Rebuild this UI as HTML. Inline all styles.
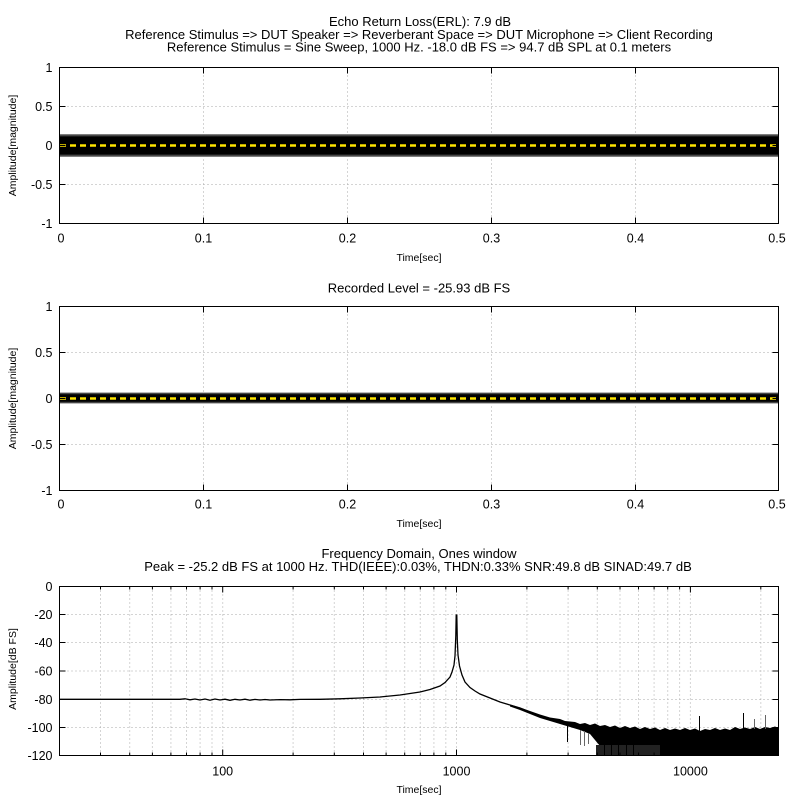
<!DOCTYPE html>
<html>
<head>
<meta charset="utf-8">
<style>
html,body{margin:0;padding:0;background:#fff;}
svg{display:block;}
</style>
</head>
<body>
<svg width="800" height="800" viewBox="0 0 800 800" xmlns="http://www.w3.org/2000/svg" font-family="'Liberation Sans', Arial, sans-serif">
<defs>
<linearGradient id="g1" x1="0" y1="0" x2="0" y2="1">
<stop offset="0" stop-color="#999"/>
<stop offset="0.08" stop-color="#333"/>
<stop offset="0.14" stop-color="#000"/>
<stop offset="0.86" stop-color="#000"/>
<stop offset="0.92" stop-color="#333"/>
<stop offset="1" stop-color="#999"/>
</linearGradient>
<linearGradient id="g2" x1="0" y1="0" x2="0" y2="1">
<stop offset="0" stop-color="#888"/>
<stop offset="0.14" stop-color="#222"/>
<stop offset="0.22" stop-color="#000"/>
<stop offset="0.78" stop-color="#000"/>
<stop offset="0.86" stop-color="#222"/>
<stop offset="1" stop-color="#888"/>
</linearGradient>
</defs>
<rect width="800" height="800" fill="#fff"/>

<!-- ===== Top titles ===== -->
<g font-size="13" text-anchor="middle" fill="#000">
<text x="420" y="26">Echo Return Loss(ERL): 7.9 dB</text>
<text x="419" y="38.8">Reference Stimulus =&gt; DUT Speaker =&gt; Reverberant Space =&gt; DUT Microphone =&gt; Client Recording</text>
<text x="419" y="51.6">Reference Stimulus = Sine Sweep, 1000 Hz. -18.0 dB FS =&gt; 94.7 dB SPL at 0.1 meters</text>
</g>

<!-- ===== Plot 1 ===== -->
<g stroke="#aaa" stroke-width="1" stroke-dasharray="1,3" fill="none">
<path d="M59.5,106.5H778.5 M59.5,145.5H778.5 M59.5,184.5H778.5"/>
<path d="M203.5,67.5V223.5 M347.5,67.5V223.5 M491.5,67.5V223.5 M635.5,67.5V223.5"/>
</g>
<rect x="59.5" y="134" width="719" height="23" fill="url(#g1)"/>
<line x1="60" y1="145.5" x2="778" y2="145.5" stroke="#ffe600" stroke-width="2.5" stroke-dasharray="6,4"/>
<rect x="59.5" y="67.5" width="719" height="156" fill="none" stroke="#000" stroke-width="1"/>
<path d="M203.5,223.5v-6 M347.5,223.5v-6 M491.5,223.5v-6 M635.5,223.5v-6 M203.5,67.5v6 M347.5,67.5v6 M491.5,67.5v6 M635.5,67.5v6 M59.5,106.5h6 M59.5,145.5h6 M59.5,184.5h6 M778.5,106.5h-6 M778.5,145.5h-6 M778.5,184.5h-6" stroke="#000" stroke-width="1" fill="none"/>
<g font-size="12.5" text-anchor="end" fill="#000">
<text x="52.5" y="72">1</text>
<text x="52.5" y="111">0.5</text>
<text x="52.5" y="150">0</text>
<text x="52.5" y="189">-0.5</text>
<text x="52.5" y="228">-1</text>
</g>
<g font-size="12.5" text-anchor="middle" fill="#000">
<text x="61" y="242.7">0</text>
<text x="203.5" y="242.7">0.1</text>
<text x="347.5" y="242.7">0.2</text>
<text x="491.5" y="242.7">0.3</text>
<text x="635.5" y="242.7">0.4</text>
<text x="777" y="242.7">0.5</text>
</g>
<text x="419" y="261" font-size="10.5" text-anchor="middle">Time[sec]</text>
<text transform="translate(16,145.5) rotate(-90)" font-size="10.5" text-anchor="middle">Amplitude[magnitude]</text>

<!-- ===== Plot 2 ===== -->
<text x="419" y="292.6" font-size="13" text-anchor="middle">Recorded Level = -25.93 dB FS</text>
<g stroke="#aaa" stroke-width="1" stroke-dasharray="1,3" fill="none">
<path d="M59.5,352.5H778.5 M59.5,398.5H778.5 M59.5,444.5H778.5"/>
<path d="M203.5,306.5V490.5 M347.5,306.5V490.5 M491.5,306.5V490.5 M635.5,306.5V490.5"/>
</g>
<rect x="59.5" y="392.5" width="719" height="11" fill="url(#g2)"/>
<line x1="60" y1="398.5" x2="778" y2="398.5" stroke="#ffe600" stroke-width="2.5" stroke-dasharray="6,4"/>
<rect x="59.5" y="306.5" width="719" height="184" fill="none" stroke="#000" stroke-width="1"/>
<path d="M203.5,490.5v-6 M347.5,490.5v-6 M491.5,490.5v-6 M635.5,490.5v-6 M203.5,306.5v6 M347.5,306.5v6 M491.5,306.5v6 M635.5,306.5v6 M59.5,352.5h6 M59.5,398.5h6 M59.5,444.5h6 M778.5,352.5h-6 M778.5,398.5h-6 M778.5,444.5h-6" stroke="#000" stroke-width="1" fill="none"/>
<g font-size="12.5" text-anchor="end" fill="#000">
<text x="52.5" y="311">1</text>
<text x="52.5" y="357">0.5</text>
<text x="52.5" y="403">0</text>
<text x="52.5" y="449">-0.5</text>
<text x="52.5" y="495">-1</text>
</g>
<g font-size="12.5" text-anchor="middle" fill="#000">
<text x="61" y="508.7">0</text>
<text x="203.5" y="508.7">0.1</text>
<text x="347.5" y="508.7">0.2</text>
<text x="491.5" y="508.7">0.3</text>
<text x="635.5" y="508.7">0.4</text>
<text x="777" y="508.7">0.5</text>
</g>
<text x="419" y="527" font-size="10.5" text-anchor="middle">Time[sec]</text>
<text transform="translate(16,398.5) rotate(-90)" font-size="10.5" text-anchor="middle">Amplitude[magnitude]</text>

<!-- ===== Plot 3 ===== -->
<g font-size="13" text-anchor="middle" fill="#000">
<text x="419" y="558">Frequency Domain, Ones window</text>
<text x="418" y="571">Peak = -25.2 dB FS at 1000 Hz. THD(IEEE):0.03%, THDN:0.33% SNR:49.8 dB SINAD:49.7 dB</text>
</g>
<g stroke="#aaa" stroke-width="1" stroke-dasharray="1,3" fill="none">
<path d="M59.5,614.5H778.5 M59.5,642.5H778.5 M59.5,671H778.5 M59.5,699.5H778.5 M59.5,727.5H778.5"/>
<path d="M100.5,586.5V755.5 M129.7,586.5V755.5 M152.4,586.5V755.5 M170.9,586.5V755.5 M186.5,586.5V755.5 M200.1,586.5V755.5 M212,586.5V755.5 M222.7,586.5V755.5
M293.1,586.5V755.5 M334.3,586.5V755.5 M363.5,586.5V755.5 M386.1,586.5V755.5 M404.7,586.5V755.5 M420.3,586.5V755.5 M433.9,586.5V755.5 M445.8,586.5V755.5 M456.5,586.5V755.5
M526.9,586.5V755.5 M568.1,586.5V755.5 M597.3,586.5V755.5 M620,586.5V755.5 M638.5,586.5V755.5 M654.1,586.5V755.5 M667.7,586.5V755.5 M679.6,586.5V755.5 M690.4,586.5V755.5 M760.8,586.5V755.5"/>
</g>

<!-- spectrum curve -->
<path d="M59.5,699.3 L180,699.3 L185,698.8 L190,699.8 L195,699 L200,700 L205,699 L210,700.2 L215,699 L220,700 L225,699.2 L230,700.3 L235,699.3 L240,700 L245,699.2 L250,700.2 L255,699.4 L260,700 L265,699.5 L270,700 L280,699.6 L290,699.8 L300,699.4 L320,699.3 L340,698.8 L360,698 L380,697 L400,695 L410,693.5 L420,692 L430,689.5 L440,686 L445,682.5 L450,677 L452,672 L454,665 L455,656 L455.8,636 L456.2,615 L456.8,615 L457.3,640 L458,655 L459.5,666 L462,675 L465,682 L470,687.5 L475,691 L480,694 L490,698 L500,702 L510,705 L520,708 L530,712 L540,716" fill="none" stroke="#000" stroke-width="1.3"/>
<!-- noisy band -->
<polygon fill="#000" points="510,704.5 520,707.5 530,711 540,714.5 550,717.5 560,719 565,721 570,721.5 575,722 580,724 585,723 590,725 595,723.5 600,726 605,725 610,727 615,725.5 620,728 625,726 630,728 635,726.5 640,729 645,727 650,729 655,727.5 660,730 665,728 670,730 675,728.5 680,730 685,728 690,730 695,728.5 700,731 705,729 710,730 715,728 720,730 725,728.5 730,730 735,727 740,729 745,727.5 750,729 755,727 760,729 765,727 770,728 775,726.5 778.5,728 778.5,755.5 660,755.5 640,750 620,748 600,746 595,740 590,734 580,730 570,727 560,724 550,721 540,718 530,714 520,710 510,706.5"/>
<rect x="596" y="745" width="64" height="10.5" fill="#222"/>
<g stroke="#000" stroke-width="1">
<path d="M567.5,725V742 M699.5,716V731 M743.5,713V730 M604.5,740V755 M611.5,742V755 M618.5,738V755 M626.5,744V755 M633.5,741V755"/>
</g>
<g stroke="#666" stroke-width="1">
<path d="M580.5,730V745 M584.5,731V746 M588.5,733V744 M754.5,719V729 M765.5,715V729"/>
</g>

<rect x="59.5" y="586.5" width="719" height="169" fill="none" stroke="#000" stroke-width="1"/>
<path d="M59.5,614.5h6 M59.5,642.5h6 M59.5,671h6 M59.5,699.5h6 M59.5,727.5h6 M778.5,614.5h-6 M778.5,642.5h-6 M778.5,671h-6 M778.5,699.5h-6 M778.5,727.5h-6
M222.7,755.5v-6 M456.5,755.5v-6 M690.4,755.5v-6 M222.7,586.5v6 M456.5,586.5v6 M690.4,586.5v6
M100.5,755.5v-3 M129.7,755.5v-3 M152.4,755.5v-3 M170.9,755.5v-3 M186.5,755.5v-3 M200.1,755.5v-3 M212,755.5v-3 M293.1,755.5v-3 M334.3,755.5v-3 M363.5,755.5v-3 M386.1,755.5v-3 M404.7,755.5v-3 M420.3,755.5v-3 M433.9,755.5v-3 M445.8,755.5v-3 M526.9,755.5v-3 M568.1,755.5v-3 M597.3,755.5v-3 M620,755.5v-3 M638.5,755.5v-3 M654.1,755.5v-3 M667.7,755.5v-3 M679.6,755.5v-3 M760.8,755.5v-3
M100.5,586.5v3 M129.7,586.5v3 M152.4,586.5v3 M170.9,586.5v3 M186.5,586.5v3 M200.1,586.5v3 M212,586.5v3 M293.1,586.5v3 M334.3,586.5v3 M363.5,586.5v3 M386.1,586.5v3 M404.7,586.5v3 M420.3,586.5v3 M433.9,586.5v3 M445.8,586.5v3 M526.9,586.5v3 M568.1,586.5v3 M597.3,586.5v3 M620,586.5v3 M638.5,586.5v3 M654.1,586.5v3 M667.7,586.5v3 M679.6,586.5v3 M760.8,586.5v3" stroke="#000" stroke-width="1" fill="none"/>
<g font-size="12.5" text-anchor="end" fill="#000">
<text x="52.5" y="591">0</text>
<text x="52.5" y="619">-20</text>
<text x="52.5" y="647">-40</text>
<text x="52.5" y="675.5">-60</text>
<text x="52.5" y="704">-80</text>
<text x="52.5" y="732">-100</text>
<text x="52.5" y="760">-120</text>
</g>
<g font-size="12.5" text-anchor="middle" fill="#000">
<text x="222.7" y="775.3">100</text>
<text x="456.5" y="775.3">1000</text>
<text x="690.4" y="775.3">10000</text>
</g>
<text x="419" y="793" font-size="10.5" text-anchor="middle">Time[sec]</text>
<text transform="translate(16,669) rotate(-90)" font-size="10.5" text-anchor="middle">Amplitude[dB FS]</text>
</svg>
</body>
</html>
